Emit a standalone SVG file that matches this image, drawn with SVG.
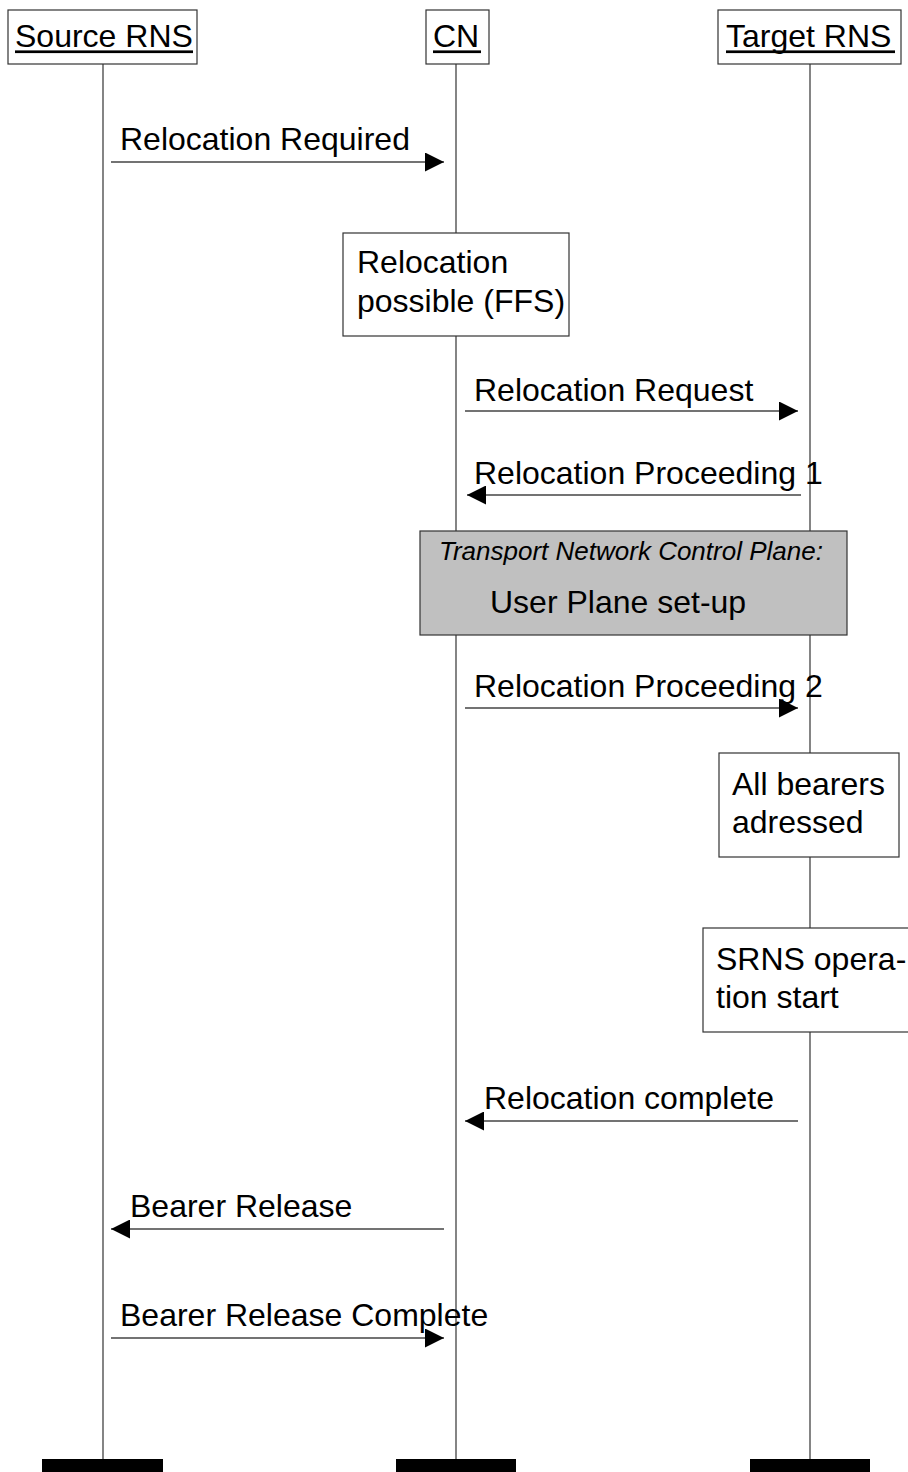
<svg xmlns="http://www.w3.org/2000/svg" width="908" height="1472" viewBox="0 0 908 1472">
<style>
text{font-family:"Liberation Sans",Arial,sans-serif;font-size:32px;fill:#000}
.it{font-style:italic;font-size:26px}
.box{fill:#fff;stroke:#333;stroke-width:1.2}
.gbox{fill:#c0c0c0;stroke:#333;stroke-width:1.2}
.life{stroke:#333;stroke-width:1.2;fill:none}
.msg{stroke:#444;stroke-width:1.4;fill:none;marker-end:url(#ah)}
.ul{fill:#000}
.bar{fill:#000}
</style>
<defs>
<marker id="ah" markerUnits="userSpaceOnUse" markerWidth="19" markerHeight="19" refX="19" refY="9.5" orient="auto" viewBox="0 0 19 19">
<path d="M0,0 L19,9.5 L0,19 Z" fill="#000"/>
</marker>
</defs>
<rect width="908" height="1472" fill="#fff"/>
<g id="lifelines">
<line class="life" x1="103" y1="64" x2="103" y2="1460"/>
<line class="life" x1="456" y1="64" x2="456" y2="1460"/>
<line class="life" x1="810" y1="64" x2="810" y2="1460"/>
</g>
<g id="source-rns">
<rect class="box" x="8" y="10" width="189" height="54"/>
<text x="15" y="47">Source RNS</text>
<rect class="ul" x="15" y="50.4" width="178" height="2.7"/>
<rect class="bar" x="42" y="1459" width="121" height="13"/>
</g>
<g id="cn">
<rect class="box" x="426" y="10" width="63" height="54"/>
<text x="433" y="47">CN</text>
<rect class="ul" x="433" y="50.4" width="48" height="2.7"/>
<rect class="bar" x="396" y="1459" width="120" height="13"/>
</g>
<g id="target-rns">
<rect class="box" x="718" y="10" width="183" height="54"/>
<text x="726" y="47">Target RNS</text>
<rect class="ul" x="726" y="50.4" width="169" height="2.7"/>
<rect class="bar" x="750" y="1459" width="120" height="13"/>
</g>
<g id="relocation-possible">
<rect class="box" x="343" y="233" width="226" height="103"/>
<text x="357" y="273">Relocation</text>
<text x="357" y="312">possible (FFS)</text>
</g>
<g id="user-plane-setup">
<rect class="gbox" x="420" y="531" width="427" height="104"/>
<text class="it" x="439" y="560">Transport Network Control Plane:</text>
<text x="490" y="613">User Plane set-up</text>
</g>
<g id="all-bearers">
<rect class="box" x="719" y="753" width="180" height="104"/>
<text x="732" y="795">All bearers</text>
<text x="732" y="833">adressed</text>
</g>
<g id="srns-operation">
<rect class="box" x="703" y="928" width="215" height="104"/>
<text x="716" y="970">SRNS opera-</text>
<text x="716" y="1008">tion start</text>
</g>
<g id="connectors">
<line class="msg" x1="111" y1="162" x2="444" y2="162"/>
<line class="msg" x1="465" y1="411" x2="798" y2="411"/>
<line class="msg" x1="801" y1="495" x2="467" y2="495"/>
<line class="msg" x1="465" y1="708" x2="798" y2="708"/>
<line class="msg" x1="798" y1="1121" x2="465" y2="1121"/>
<line class="msg" x1="444" y1="1229" x2="111" y2="1229"/>
<line class="msg" x1="111" y1="1338" x2="444" y2="1338"/>
</g>
<g id="labels">
<text x="120" y="150">Relocation Required</text>
<text x="474" y="401">Relocation Request</text>
<text x="474" y="484">Relocation Proceeding 1</text>
<text x="474" y="697">Relocation Proceeding 2</text>
<text x="484" y="1109">Relocation complete</text>
<text x="130" y="1217">Bearer Release</text>
<text x="120" y="1326">Bearer Release Complete</text>
</g>
</svg>
